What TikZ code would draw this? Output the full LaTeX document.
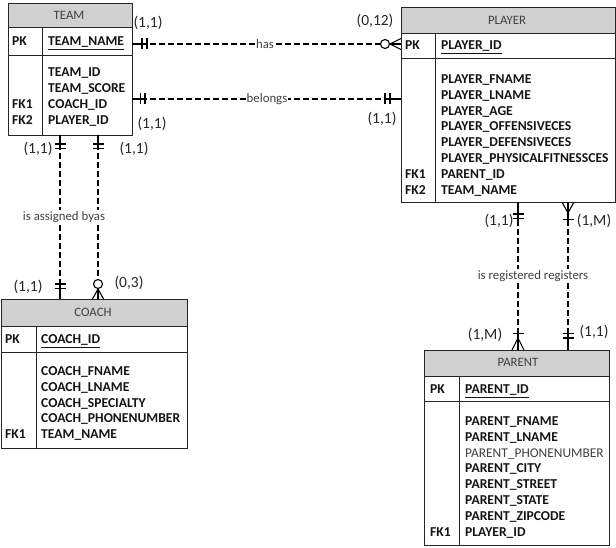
\documentclass[tikz,border=0pt]{standalone}
\usepackage{fontspec}
\setmainfont{Carlito}
\definecolor{hdrgray}{RGB}{208,208,208}
\definecolor{txtdark}{RGB}{20,20,20}
\definecolor{relgray}{RGB}{64,64,64}
\begin{document}
\begin{tikzpicture}[x=1pt,y=-1pt,
  tblline/.style={draw=black!85,line width=0.9pt},
  hdrfill/.style={fill=hdrgray},
  hdrtxt/.style={inner sep=0pt,font=\fontsize{12.8}{15}\selectfont,text=black!75},
  fld/.style={anchor=base west,inner sep=0pt,font=\bfseries\fontsize{13.6}{16}\selectfont,text=txtdark},
  fldn/.style={anchor=base west,inner sep=0pt,font=\fontsize{13.4}{16}\selectfont,text=relgray},
  conn/.style={draw=black,line width=1.3pt,dash pattern=on 6pt off 3pt},
  endmark/.style={draw=black,line width=1.1pt},
  card/.style={inner sep=0pt,font=\fontsize{15.5}{18}\selectfont,text=black!85},
  rel/.style={inner sep=1pt,fill=white,font=\fontsize{12.8}{15}\selectfont,text=relgray}]
\useasboundingbox (0,0) rectangle (616,548);
\fill[white] (0,0) rectangle (616,548);

% ---------------- TEAM ----------------
\fill[hdrfill] (8,3) rectangle (132,27);
\node[tblline,minimum width=124pt,minimum height=132pt,anchor=north west,inner sep=0pt] (team) at (8,3) {};
\draw[tblline] (8,27) -- (132,27) (8,55) -- (132,55) (42,27) -- (42,135);
\node[hdrtxt] (teamh) at (69,15) {TEAM};
\node[fld] (teampk) at (12,45.5) {PK};
\node[fld] (teamf0) at (48,45.5) {\underline{TEAM\_NAME}};
\node[fld] (teamf1) at (48,76.5) {TEAM\_ID};
\node[fld] (teamf2) at (48,92.5) {TEAM\_SCORE};
\node[fld] (teamf3) at (48,108.5) {COACH\_ID};
\node[fld] (teamf4) at (48,124.5) {PLAYER\_ID};
\node[fld] (teamk1) at (12,108.5) {FK1};
\node[fld] (teamk2) at (12,124.5) {FK2};

% ---------------- PLAYER ----------------
\fill[hdrfill] (401,7) rectangle (615,33);
\node[tblline,minimum width=214pt,minimum height=195pt,anchor=north west,inner sep=0pt] (player) at (401,7) {};
\draw[tblline] (401,33) -- (615,33) (401,58) -- (615,58) (435,33) -- (435,202);
\node[hdrtxt] (playerh) at (507,20) {PLAYER};
\node[fld] (playerpk) at (405,49.5) {PK};
\node[fld] (playerf0) at (441,49.5) {\underline{PLAYER\_ID}};
\node[fld] (playerf1) at (441,83.5) {PLAYER\_FNAME};
\node[fld] (playerf2) at (441,99.3) {PLAYER\_LNAME};
\node[fld] (playerf3) at (441,115.2) {PLAYER\_AGE};
\node[fld] (playerf4) at (441,131) {PLAYER\_OFFENSIVECES};
\node[fld] (playerf5) at (441,146.8) {PLAYER\_DEFENSIVECES};
\node[fld] (playerf6) at (441,162.6) {PLAYER\_PHYSICALFITNESSCES};
\node[fld] (playerf7) at (441,178.4) {PARENT\_ID};
\node[fld] (playerf8) at (441,194.2) {TEAM\_NAME};
\node[fld] (playerk1) at (405,178.4) {FK1};
\node[fld] (playerk2) at (405,194.2) {FK2};

% ---------------- COACH ----------------
\fill[hdrfill] (1,299) rectangle (187,326);
\node[tblline,minimum width=186pt,minimum height=149pt,anchor=north west,inner sep=0pt] (coach) at (1,299) {};
\draw[tblline] (1,326) -- (187,326) (1,352) -- (187,352) (36,326) -- (36,448);
\node[hdrtxt] (coachh) at (93,312) {COACH};
\node[fld] (coachpk) at (5,343.5) {PK};
\node[fld] (coachf0) at (41,343.5) {\underline{COACH\_ID}};
\node[fld] (coachf1) at (41,375.5) {COACH\_FNAME};
\node[fld] (coachf2) at (41,391.3) {COACH\_LNAME};
\node[fld] (coachf3) at (41,407.1) {COACH\_SPECIALTY};
\node[fld] (coachf4) at (41,422.9) {COACH\_PHONENUMBER};
\node[fld] (coachf5) at (41,438.7) {TEAM\_NAME};
\node[fld] (coachk1) at (5,438.7) {FK1};

% ---------------- PARENT ----------------
\fill[hdrfill] (424,350) rectangle (609,376);
\node[tblline,minimum width=185pt,minimum height=195pt,anchor=north west,inner sep=0pt] (parent) at (424,350) {};
\draw[tblline] (424,376) -- (609,376) (424,401) -- (609,401) (459,376) -- (459,545);
\node[hdrtxt] (parenth) at (518,362) {PARENT};
\node[fld] (parentpk) at (430,393.5) {PK};
\node[fld] (parentf0) at (465,393.5) {\underline{PARENT\_ID}};
\node[fld] (parentf1) at (465,425.5) {PARENT\_FNAME};
\node[fld] (parentf2) at (465,441.3) {PARENT\_LNAME};
\node[fldn] (parentf3) at (465,457.1) {PARENT\_PHONENUMBER};
\node[fld] (parentf4) at (465,472.9) {PARENT\_CITY};
\node[fld] (parentf5) at (465,488.7) {PARENT\_STREET};
\node[fld] (parentf6) at (465,504.5) {PARENT\_STATE};
\node[fld] (parentf7) at (465,520.3) {PARENT\_ZIPCODE};
\node[fld] (parentf8) at (465,536.1) {PLAYER\_ID};
\node[fld] (parentk1) at (430,536.1) {FK1};

% ---------------- connector end points ----------------
\coordinate (hasL) at (132,44);
\coordinate (hasR) at (401,44);
\coordinate (belL) at (132,99);
\coordinate (belR) at (401,99);
\coordinate (tcAT) at (60,135);
\coordinate (tcAB) at (60,299);
\coordinate (tcBT) at (98,135);
\coordinate (tcBB) at (98,299);
\coordinate (ppAT) at (518,202);
\coordinate (ppAB) at (518,350);
\coordinate (ppBT) at (568,202);
\coordinate (ppBB) at (568,350);

% ---------------- connectors ----------------
\draw[conn] (hasL) -- (hasR);
\draw[conn] (belL) -- (belR);
\draw[conn] (tcAT) -- (tcAB);
\draw[conn] (tcBT) -- (tcBB);
\draw[conn] (ppAT) -- (ppAB);
\draw[conn] (ppBT) -- (ppBB);

% solid stubs at ends
\draw[endmark] (hasL) -- ++(15,0);
\draw[endmark] (hasR) -- ++(-12,0);
\draw[endmark] (belL) -- ++(15,0);
\draw[endmark] (belR) -- ++(-14,0);
\draw[endmark] (tcAT) -- ++(0,15) (tcAB) -- ++(0,-17);
\draw[endmark] (tcBT) -- ++(0,15) (tcBB) -- ++(0,-10);
\draw[endmark] (ppAT) -- ++(0,18) (ppAB) -- ++(0,-18);
\draw[endmark] (ppBT) -- ++(0,19) (ppBB) -- ++(0,-17);

% has: mandatory one at TEAM, zero-or-many at PLAYER
\draw[endmark] (142,38.5) -- (142,49.5) (147,38.5) -- (147,49.5);
\draw[endmark,fill=white] (385,44) circle (4.5pt);
\draw[endmark] (390,44) -- (401,38.5) (390,44) -- (401,49.5);
% belongs: mandatory one both ends
\draw[endmark] (140.5,93.5) -- (140.5,104.5) (145,93.5) -- (145,104.5);
\draw[endmark] (385,93.5) -- (385,104.5) (390,93.5) -- (390,104.5);
% TEAM-COACH line A: one and only one both ends
\draw[endmark] (54.5,144) -- (65.5,144) (54.5,148.5) -- (65.5,148.5);
\draw[endmark] (54.5,284) -- (65.5,284) (54.5,288.5) -- (65.5,288.5);
% TEAM-COACH line B: one at TEAM, zero-or-many at COACH
\draw[endmark] (92.5,144) -- (103.5,144) (92.5,148.5) -- (103.5,148.5);
\draw[endmark,fill=white] (98,284) circle (4.5pt);
\draw[endmark] (98,289) -- (92.5,299) (98,289) -- (103.5,299);
% PLAYER-PARENT line A: one at PLAYER, one-or-many at PARENT
\draw[endmark] (512.5,214) -- (523.5,214) (512.5,218.5) -- (523.5,218.5);
\draw[endmark] (512.5,333.5) -- (523.5,333.5);
\draw[endmark] (518,338) -- (512,350) (518,338) -- (524,350);
% PLAYER-PARENT line B: one-or-many at PLAYER, one at PARENT
\draw[endmark] (568,213) -- (562,202) (568,213) -- (574,202);
\draw[endmark] (562.5,219.5) -- (573.5,219.5);
\draw[endmark] (562.5,333.5) -- (573.5,333.5) (562.5,338) -- (573.5,338);

% ---------------- relationship labels ----------------
\node[rel] (lhas) at (265,44) {has};
\node[rel] (lbel) at (267,99) {belongs};
\node[rel] (lasg) at (64,217) {is assigned byas};
\node[rel] (lreg) at (533,276) {is registered registers};

% ---------------- cardinalities ----------------
\node[card] (c1) at (148,23) {(1,1)};
\node[card] (c2) at (375,21) {(0,12)};
\node[card] (c3) at (152,124) {(1,1)};
\node[card] (c4) at (382,119) {(1,1)};
\node[card] (c5) at (38,149) {(1,1)};
\node[card] (c6) at (134,149) {(1,1)};
\node[card] (c7) at (28,287) {(1,1)};
\node[card] (c8) at (129,283) {(0,3)};
\node[card] (c9) at (499,221) {(1,1)};
\node[card] (c10) at (594,221) {(1,M)};
\node[card] (c11) at (485,335) {(1,M)};
\node[card] (c12) at (594,332) {(1,1)};
\end{tikzpicture}
\end{document}
